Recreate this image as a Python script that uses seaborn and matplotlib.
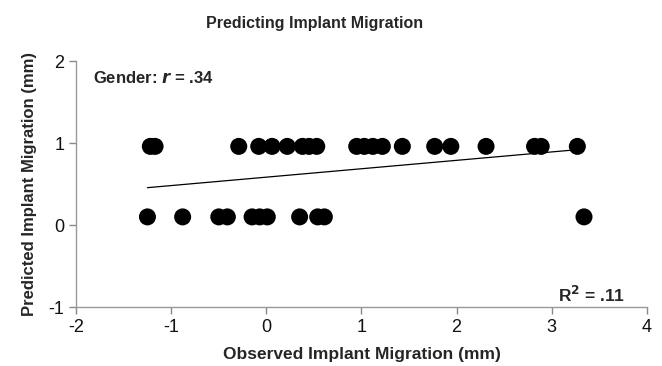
import numpy as np
import pandas as pd
import matplotlib
matplotlib.use("Agg")
import matplotlib.pyplot as plt
import seaborn as sns

# values
observed_high = [-1.22, -1.17, -0.29, -0.08, 0.06, 0.22, 0.38, 0.45, 0.53, 0.95,
                 1.03, 1.12, 1.22, 1.43, 1.77, 1.94, 2.31, 2.82, 2.89, 3.27]
observed_low = [-1.25, -0.88, -0.50, -0.41, -0.15, -0.07, 0.01, 0.35, 0.54, 0.61, 3.34]
predicted_high = 0.96
predicted_low = 0.10

x_ticks = [-2, -1, 0, 1, 2, 3, 4]
y_ticks = [-1, 0, 1, 2]

df = pd.DataFrame({
    "observed": observed_high + observed_low,
    "predicted": [predicted_high] * len(observed_high) + [predicted_low] * len(observed_low),
})

sns.set_style("white")
plt.rcParams["font.family"] = ["Liberation Sans", "DejaVu Sans"]
plt.rcParams["axes.unicode_minus"] = False

fig = plt.figure(figsize=(6.62, 3.66), dpi=100)
ax = fig.add_axes([0.115, 0.161, 0.862, 0.672])

sns.scatterplot(data=df, x="observed", y="predicted", color="black", s=150,
                edgecolor="none", ax=ax, zorder=3)
sns.regplot(data=df, x="observed", y="predicted", scatter=False, ci=None,
            line_kws={"color": "black", "lw": 0.9}, ax=ax)

ax.set_xlim(x_ticks[0], x_ticks[-1])
ax.set_ylim(y_ticks[0], y_ticks[-1])
ax.set_xticks(x_ticks)
ax.set_yticks(y_ticks)
ax.tick_params(axis="both", labelsize=13, colors="#888888", length=5, width=1,
               direction="out", bottom=True, left=True, labelcolor="#111111")
for side in ["top", "right"]:
    ax.spines[side].set_visible(False)
for side in ["left", "bottom"]:
    ax.spines[side].set_color("#999999")
    ax.spines[side].set_linewidth(1)

ax.set_xlabel("Observed Implant Migration (mm)", fontsize=12.5, fontweight="bold", labelpad=8)
ax.set_ylabel("Predicted Implant Migration (mm)", fontsize=12, fontweight="bold", labelpad=8)

fig.text(0.475, 0.935, "Predicting Implant Migration", ha="center", va="center",
         fontsize=11.5, fontweight="bold")
ax.text(0.03, 0.93, "Gender: $\\bfit{r}$ = .34", transform=ax.transAxes,
        ha="left", va="center", fontsize=12, fontweight="bold")
ax.text(0.963, 0.05, "R$^\\mathbf{2}$ = .11", transform=ax.transAxes,
        ha="right", va="center", fontsize=12.5, fontweight="bold")

fig.savefig("out.png", dpi=100)
